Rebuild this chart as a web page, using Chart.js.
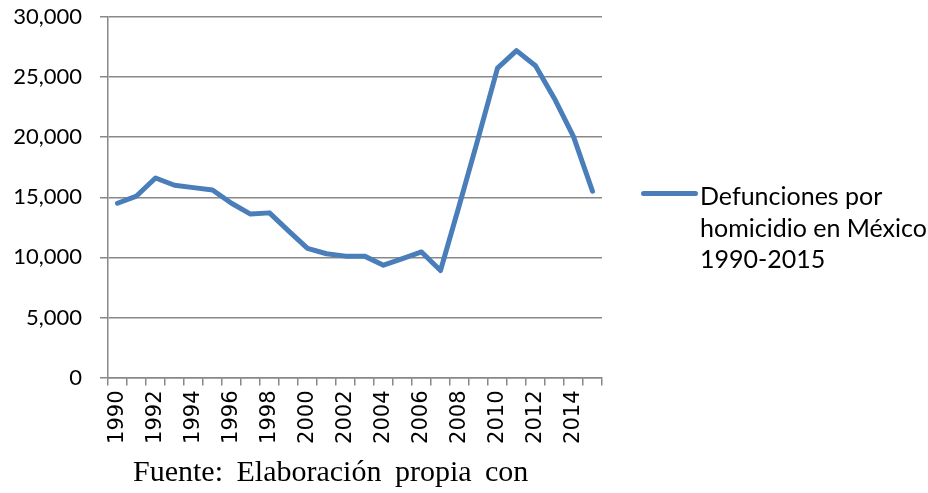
<!DOCTYPE html>
<html>
<head>
<meta charset="utf-8">
<script src="https://cdn.jsdelivr.net/npm/chart.js@4/dist/chart.umd.min.js"></script>
<style>
  html, body { margin: 0; padding: 0; background: #fff; }
  .wrap { position: relative; width: 928px; height: 493px; overflow: hidden; }
  #myChart { position: absolute; left: 0; top: 0; }
  .legend { position: absolute; left: 641px; top: 180px; }
  .legend-line { position: absolute; left: 0; top: 11px; width: 57px; height: 5px; border-radius: 3px; background: #4a7ebb; }
  .legend-text { position: absolute; left: 59px; top: 0; width: 280px; font-family: Lato, sans-serif; font-size: 25px; line-height: 31.5px; color: #000; white-space: nowrap; }
  .source { position: absolute; left: 133px; top: 454px; font-family: "Liberation Serif", serif; font-size: 30px; word-spacing: 6px; color: #000; white-space: nowrap; }
</style>
</head>
<body>
<div class="wrap">
  <canvas id="myChart" width="928" height="493"></canvas>
  <div class="legend">
    <div class="legend-line"></div>
    <div class="legend-text">Defunciones por<br>homicidio en México<br>1990-2015</div>
  </div>
  <div class="source">Fuente: Elaboración propia con</div>
</div>
<script>
const years = ['1990', '1991', '1992', '1993', '1994', '1995', '1996', '1997', '1998', '1999',
  '2000', '2001', '2002', '2003', '2004', '2005', '2006', '2007', '2008', '2009',
  '2010', '2011', '2012', '2013', '2014', '2015'];
const homicidios = [14500, 15100, 16600, 16000, 15800, 15600, 14500, 13600, 13700, 12200,
  10750, 10300, 10100, 10100, 9350, 9900, 10450, 8900, 14400, 20000,
  25750, 27200, 25950, 23200, 20050, 15500];
const yTicks = [0, 5000, 10000, 15000, 20000, 25000, 30000];
const seriesLabel = 'Defunciones por homicidio en México 1990-2015';

const gridGray = '#888888';

var ctx = document.getElementById('myChart');
var myChart = new Chart(ctx, {
  type: 'line',
  data: {
    labels: years,
    datasets: [
      {
        label: seriesLabel,
        data: homicidios,
        borderColor: '#4a7ebb',
        backgroundColor: '#4a7ebb',
        borderWidth: 5,
        borderCapStyle: 'round',
        borderJoinStyle: 'round',
        pointRadius: 0,
        tension: 0,
      },
    ],
  },
  options: {
    responsive: false,
    animation: false,
    layout: {
      padding: { top: 17, right: 326, left: 0, bottom: 0 },
    },
    plugins: {
      legend: { display: false },
      tooltip: { enabled: false },
    },
    scales: {
      x: {
        offset: true,
        grid: {
          offset: true,
          drawOnChartArea: false,
          drawTicks: true,
          tickLength: 8,
          color: gridGray,
          lineWidth: 1.5,
        },
        border: { color: gridGray, width: 1.5 },
        ticks: {
          autoSkip: false,
          minRotation: 90,
          maxRotation: 90,
          padding: 5,
          color: '#000',
          font: { family: 'DejaVu Sans', size: 21 },
          callback: function (value, index) {
            return index % 2 === 0 ? years[index] : '';
          },
        },
        afterFit: function (scale) {
          scale.height = 115.5;
        },
      },
      y: {
        min: yTicks[0],
        max: yTicks[yTicks.length - 1],
        afterBuildTicks: function (scale) {
          scale.ticks = yTicks.map(function (v) { return { value: v }; });
        },
        grid: {
          color: gridGray,
          lineWidth: 1.5,
          tickLength: 8,
        },
        border: { color: gridGray, width: 1.5 },
        ticks: {
          padding: 18,
          color: '#000',
          font: { family: 'Lato', size: 22 },
          callback: function (value) {
            return value.toLocaleString('en-US');
          },
        },
        afterFit: function (scale) {
          scale.width = 108;
          // labels fit inside the top padding already
          scale.paddingTop = 0;
          scale.paddingBottom = 0;
        },
      },
    },
  },
});
</script>
</body>
</html>
